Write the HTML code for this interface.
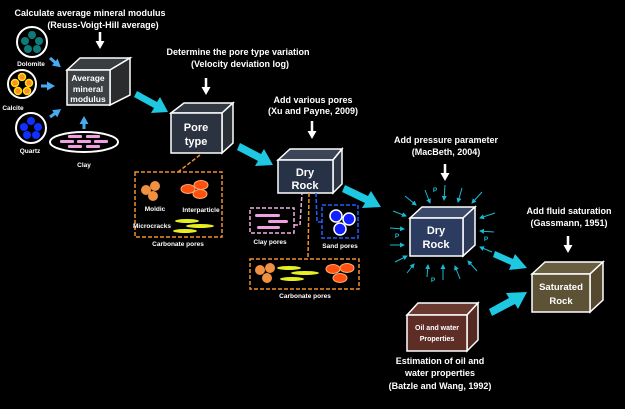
<!DOCTYPE html>
<html><head><meta charset="utf-8"><style>
html,body{margin:0;padding:0;background:#000;}
svg{display:block;font-family:"Liberation Sans",sans-serif;}
</style></head><body>
<svg width="625" height="409" viewBox="0 0 625 409" xmlns="http://www.w3.org/2000/svg">
<defs>
<marker id="wa" markerUnits="userSpaceOnUse" markerWidth="9" markerHeight="9" refX="4" refY="4.5" orient="auto"><path d="M0,0 L8,4.5 L0,9 z" fill="#fff"/></marker>
<marker id="ba" markerUnits="userSpaceOnUse" markerWidth="8" markerHeight="9" refX="3" refY="4.5" orient="auto"><path d="M0,0 L8,4.5 L0,9 z" fill="#4aaaf0"/></marker>
<marker id="ca" markerUnits="userSpaceOnUse" markerWidth="5" markerHeight="5" refX="4" refY="2.5" orient="auto"><path d="M0,0 L5,2.5 L0,5 z" fill="#1ab8d0"/></marker>
</defs>
<rect width="625" height="409" fill="#000"/>
<g fill="#fff" font-weight="bold" text-anchor="middle" font-size="9">
<text x="90" y="16">Calculate average mineral modulus</text>
<text x="103" y="28">(Reuss-Voigt-Hill average)</text>
<text x="238" y="55">Determine the pore type variation</text>
<text x="240" y="67">(Velocity deviation log)</text>
<text x="313" y="103">Add various pores</text>
<text x="313" y="114">(Xu and Payne, 2009)</text>
<text x="446" y="143">Add pressure parameter</text>
<text x="446" y="155">(MacBeth, 2004)</text>
<text x="569" y="214">Add fluid saturation</text>
<text x="569" y="226">(Gassmann, 1951)</text>
<text x="440" y="364">Estimation of oil and</text>
<text x="440" y="376">water properties</text>
<text x="440" y="389">(Batzle and Wang, 1992)</text>
</g>
<g stroke="#fff" stroke-width="2.5">
<line x1="100" y1="32" x2="100" y2="45" marker-end="url(#wa)"/>
<line x1="206" y1="78" x2="206" y2="91" marker-end="url(#wa)"/>
<line x1="312" y1="121" x2="312" y2="135" marker-end="url(#wa)"/>
<line x1="445" y1="164" x2="445" y2="177" marker-end="url(#wa)"/>
<line x1="568" y1="236" x2="568" y2="249" marker-end="url(#wa)"/>
</g>
<g stroke="#fff" stroke-width="2">
<circle cx="32" cy="42" r="15" fill="#000"/>
<circle cx="22" cy="84" r="14" fill="#000"/>
<circle cx="31" cy="128" r="15" fill="#000"/>
<ellipse cx="84" cy="142" rx="34" ry="10" fill="#000"/>
</g>
<g fill="#0e7a7a"><circle cx="32" cy="35" r="4"/><circle cx="25" cy="41" r="4"/><circle cx="39" cy="41" r="4"/><circle cx="28" cy="49" r="4"/><circle cx="37" cy="49" r="4"/></g>
<g fill="#ff8a30" stroke="#ffe000" stroke-width="1.5"><circle cx="22" cy="77" r="3.5"/><circle cx="15" cy="83" r="3.5"/><circle cx="29" cy="83" r="3.5"/><circle cx="18" cy="91" r="3.5"/><circle cx="27" cy="91" r="3.5"/></g>
<g fill="#1030ff"><circle cx="31" cy="121" r="4"/><circle cx="24" cy="127" r="4"/><circle cx="38" cy="127" r="4"/><circle cx="27" cy="135" r="4"/><circle cx="36" cy="135" r="4"/></g>
<g fill="#f0a0e0"><rect x="68" y="135" width="14" height="3" rx="1"/><rect x="86" y="135" width="14" height="3" rx="1"/><rect x="60" y="140" width="14" height="3" rx="1"/><rect x="77" y="140" width="14" height="3" rx="1"/><rect x="94" y="140" width="14" height="3" rx="1"/><rect x="68" y="145" width="14" height="3" rx="1"/><rect x="86" y="145" width="14" height="3" rx="1"/></g>
<g fill="#fff" font-weight="bold" font-size="6.5" text-anchor="middle">
<text x="31" y="66">Dolomite</text><text x="13" y="110">Calcite</text><text x="30" y="153">Quartz</text><text x="84" y="167">Clay</text>
</g>
<g stroke="#4aaaf0" stroke-width="3">
<line x1="50" y1="58" x2="57" y2="64" marker-end="url(#ba)"/>
<line x1="41" y1="86" x2="50" y2="86" marker-end="url(#ba)"/>
<line x1="50" y1="117" x2="57" y2="112" marker-end="url(#ba)"/>
<line x1="84" y1="129" x2="84" y2="121" marker-end="url(#ba)"/>
</g>
<g fill="#1ec8e0">
<polygon points="137,91 157,102 160,97 168,112 151,113 154,108 134,97"/>
<polygon points="240,143 261,154 264,149 273,165 255,166 258,161 237,150"/>
<polygon points="345,185 368,196 371,191 381,207 362,208 365,203 342,192"/>
<polygon points="495,251 513,259 515,254 527,268 509,270 511,265 493,257"/>
<polygon points="489,309 509,298 506,293 527,292 518,309 515,304 492,316"/>
</g>
<g stroke="#fff" stroke-width="1.5">
<polygon points="67,70 80,58 130,58 110,70" fill="#3a3d40"/><polygon points="110,70 130,58 130,95 110,105" fill="#2a2c2e"/><rect x="67" y="70" width="43" height="35" fill="#3e4144"/>
<polygon points="171,113 184,103 233,103 222,113" fill="#333a44"/><polygon points="222,113 233,103 233,143 222,153" fill="#2a2f36"/><rect x="171" y="113" width="51" height="40" fill="#2b3240"/>
<polygon points="278,160 290,149 342,149 333,160" fill="#3c4658"/><polygon points="333,160 342,149 342,184 333,193" fill="#2e3646"/><rect x="278" y="160" width="55" height="33" fill="#283246"/>
<polygon points="410,218 422,207 475,207 463,218" fill="#3b4a6a"/><polygon points="463,218 475,207 475,245 463,256" fill="#2e3b58"/><rect x="410" y="218" width="53" height="38" fill="#2c3b60"/>
<polygon points="532,274 545,262 603,262 590,274" fill="#6a5e40"/><polygon points="590,274 603,262 603,300 590,312" fill="#54482e"/><rect x="532" y="274" width="58" height="38" fill="#5e5236"/>
<polygon points="407,315 418,303 478,303 467,315" fill="#6a3a30"/><polygon points="467,315 478,303 478,340 467,351" fill="#552a22"/><rect x="407" y="315" width="60" height="36" fill="#5e2e26"/>
</g>
<g fill="#fff" font-weight="bold" text-anchor="middle">
<g font-size="8.5"><text x="88" y="81">Average</text><text x="88" y="92">mineral</text><text x="88" y="102">modulus</text></g>
<g font-size="11"><text x="196" y="131">Pore</text><text x="196" y="145">type</text>
<text x="305" y="176">Dry</text><text x="305" y="189">Rock</text>
<text x="436" y="234">Dry</text><text x="436" y="248">Rock</text></g>
<g font-size="9.5"><text x="561" y="290">Saturated</text><text x="561" y="304">Rock</text></g>
<g font-size="7"><text x="437" y="330">Oil and water</text><text x="437" y="341">Properties</text></g>
</g>
<g fill="none" stroke-dasharray="4,2" stroke-width="1.5">
<line x1="200" y1="155" x2="178" y2="172" stroke="#f09030"/>
<rect x="135" y="172" width="87" height="65" stroke="#f09030"/>
<rect x="250" y="208" width="44" height="25" stroke="#f0b0e0"/>
<polyline points="294,225 300,225 302,193" stroke="#f0b0e0"/>
<rect x="322" y="205" width="36" height="33" stroke="#2060ff"/>
<polyline points="322,222 317,222 316,193" stroke="#2060ff"/>
<rect x="250" y="259" width="109" height="30" stroke="#f09030"/>
<line x1="309" y1="193" x2="308" y2="259" stroke="#f09030"/>
</g>
<g fill="#f09040"><circle cx="146" cy="190" r="5"/><circle cx="155" cy="186" r="5"/><circle cx="153" cy="196" r="5"/>
<circle cx="260" cy="270" r="5"/><circle cx="270" cy="268" r="5"/><circle cx="267" cy="278" r="5"/></g>
<g fill="#ff5010" stroke="#ffb070" stroke-width="1"><ellipse cx="188" cy="189" rx="7" ry="4.5"/><ellipse cx="201" cy="185" rx="7" ry="4.5"/><ellipse cx="200" cy="194" rx="7" ry="4.5"/>
<ellipse cx="333" cy="269" rx="7" ry="4.5"/><ellipse cx="347" cy="268" rx="7" ry="4.5"/><ellipse cx="340" cy="278" rx="7" ry="4.5"/></g>
<g fill="#e6f020"><ellipse cx="187" cy="221" rx="12" ry="2"/><ellipse cx="200" cy="226" rx="14" ry="2"/><ellipse cx="185" cy="231" rx="12" ry="2"/>
<ellipse cx="289" cy="268" rx="12" ry="2"/><ellipse cx="305" cy="273" rx="14" ry="2"/><ellipse cx="292" cy="279" rx="12" ry="2"/></g>
<g fill="#f0a0e0"><rect x="255" y="214" width="25" height="3" rx="1.5"/><rect x="268" y="220" width="20" height="3" rx="1.5"/><rect x="257" y="226" width="23" height="3" rx="1.5"/></g>
<g fill="#1020ff" stroke="#fff" stroke-width="1.5"><circle cx="336" cy="216" r="6"/><circle cx="349" cy="219" r="6"/><circle cx="340" cy="229" r="6"/></g>
<g fill="#fff" font-weight="bold" font-size="6.5" text-anchor="middle">
<text x="155" y="211">Moldic</text><text x="201" y="212">Interparticle</text><text x="152" y="228">Microcracks</text>
<text x="178" y="246">Carbonate pores</text><text x="270" y="244">Clay pores</text><text x="340" y="248">Sand pores</text><text x="305" y="298">Carbonate pores</text>
</g>
<g stroke="#1ab8d0" stroke-width="1">
<line x1="425" y1="190" x2="430" y2="203" marker-end="url(#ca)"/>
<line x1="445" y1="185" x2="444" y2="200" marker-end="url(#ca)"/>
<line x1="462" y1="188" x2="458" y2="202" marker-end="url(#ca)"/>
<line x1="482" y1="192" x2="472" y2="203" marker-end="url(#ca)"/>
<line x1="405" y1="196" x2="416" y2="205" marker-end="url(#ca)"/>
<line x1="393" y1="211" x2="406" y2="216" marker-end="url(#ca)"/>
<line x1="390" y1="228" x2="404" y2="229" marker-end="url(#ca)"/>
<line x1="390" y1="245" x2="404" y2="245" marker-end="url(#ca)"/>
<line x1="395" y1="262" x2="407" y2="256" marker-end="url(#ca)"/>
<line x1="407" y1="273" x2="414" y2="264" marker-end="url(#ca)"/>
<line x1="427" y1="277" x2="428" y2="265" marker-end="url(#ca)"/>
<line x1="443" y1="280" x2="443" y2="265" marker-end="url(#ca)"/>
<line x1="460" y1="279" x2="455" y2="266" marker-end="url(#ca)"/>
<line x1="477" y1="271" x2="468" y2="261" marker-end="url(#ca)"/>
<line x1="495" y1="213" x2="480" y2="218" marker-end="url(#ca)"/>
<line x1="494" y1="232" x2="480" y2="231" marker-end="url(#ca)"/>
<line x1="492" y1="252" x2="480" y2="247" marker-end="url(#ca)"/>
</g>
<g fill="#1ab8d0" font-weight="bold" font-size="6.5" text-anchor="middle">
<text x="435" y="192">P</text><text x="397" y="238">P</text><text x="486" y="241">P</text><text x="433" y="282">P</text>
</g>
</svg>
</body></html>
